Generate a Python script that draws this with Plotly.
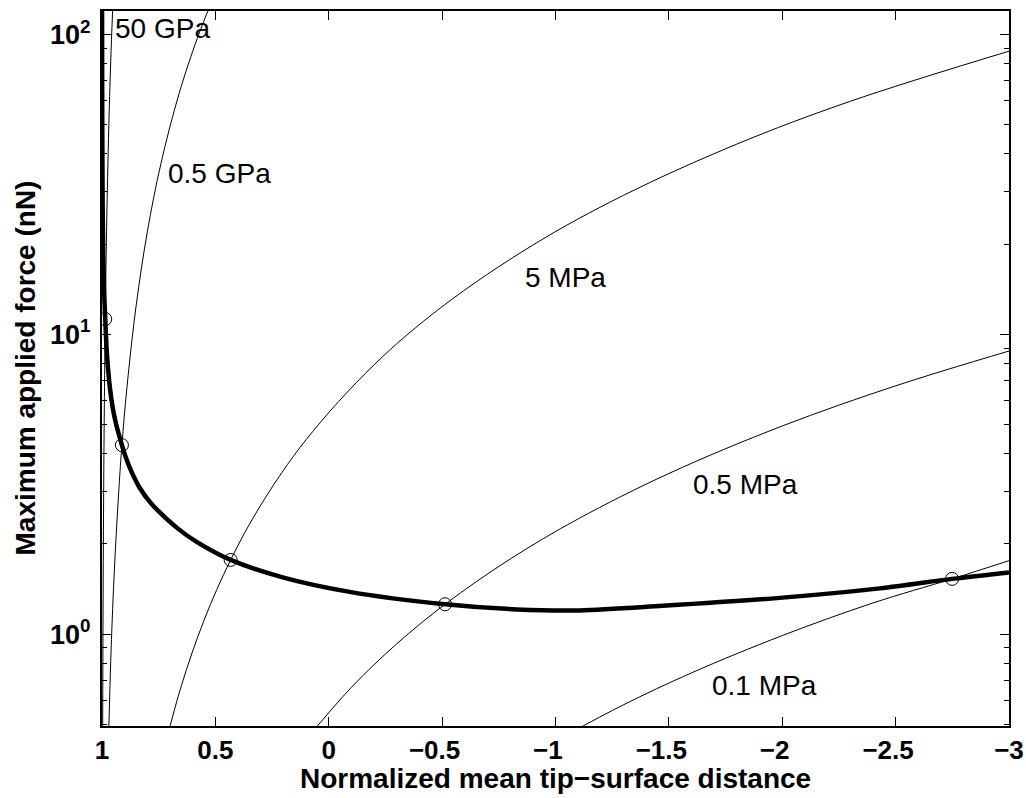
import plotly.graph_objects as go
import math

# ---------------- data ----------------
# Thick curve: maximum applied force (nN) vs normalized mean tip-surface distance
force_x = [0.99978, 0.99912, 0.9978, 0.99515, 0.99074, 0.9857, 0.97971, 0.97309, 0.96427, 0.95324,
           0.94001, 0.9122, 0.8959, 0.87384, 0.83414, 0.78121, 0.66652, 0.58271, 0.4327, 0.20335,
           -0.09219, -0.513, -0.82885, -1.10675, -1.47287, -1.98897, -2.43008, -2.749, -3.0]
force_y = [125.2, 60.4, 32.7, 19.1, 14.05, 11.24, 8.97, 7.63, 6.55, 5.72,
           5.10, 4.27, 3.906, 3.535, 3.078, 2.719, 2.253, 2.031, 1.7685, 1.547,
           1.3836, 1.258, 1.2096, 1.2003, 1.2428, 1.3213, 1.4212, 1.529, 1.607]

# Intersection markers (open circles)
mark_x = [0.9857, 0.9122, 0.4327, -0.513, -2.749]
mark_y = [11.24, 4.27, 1.7685, 1.258, 1.529]

# Constant-pressure contours
p50gpa_x = [0.998, 0.997, 0.995, 0.992, 0.9885, 0.9857, 0.98, 0.97, 0.96, 0.95]
p50gpa_y = [0.2198, 0.4946, 1.374, 3.517, 7.267, 11.24, 21.98, 49.455, 87.92, 137.4]

p05gpa_x = [0.975, 0.96, 0.945, 0.925, 0.9122, 0.89, 0.85, 0.80, 0.74, 0.66, 0.58, 0.52]
p05gpa_y = [0.3434, 0.8792, 1.6622, 3.091, 4.27, 6.649, 12.364, 21.98, 37.146, 63.522, 96.932, 126.6]

p5mpa_x = [0.72, 0.65, 0.55, 0.4327, 0.30, 0.10, -0.20, -0.50, -0.90, -1.30, -1.80, -2.30, -3.0]
p5mpa_y = [0.4308, 0.6731, 1.1127, 1.7685, 2.6926, 4.451, 7.913, 12.364, 19.837, 29.069, 43.081, 59.841, 87.92]

p05mpa_x = [0.10, -0.10, -0.30, -0.513, -0.80, -1.10, -1.50, -2.00, -2.50, -3.0]
p05mpa_y = [0.4451, 0.6649, 0.9287, 1.258, 1.7804, 2.4233, 3.4344, 4.9455, 6.7314, 8.792]

p01mpa_x = [-1.05, -1.30, -1.60, -2.00, -2.40, -2.749, -3.0]
p01mpa_y = [0.4619, 0.5814, 0.7429, 0.9891, 1.2704, 1.529, 1.7584]

contour_labels = ["50 GPa", "0.5 GPa", "5 MPa", "0.5 MPa", "0.1 MPa"]
label_x = [0.953, 0.7164, -0.8566, -1.5995, -1.680]
label_y = [105.0, 34.3, 15.5, 3.146, 0.6726]

x_ticks = [1, 0.5, 0, -0.5, -1, -1.5, -2, -2.5, -3]
x_ticklabels = ["1", "0.5", "0", "\u22120.5", "\u22121", "\u22121.5", "\u22122", "\u22122.5", "\u22123"]
y_ticks = [1, 10, 100]
y_ticktext = ["10<sup>0</sup>", "10<sup>1</sup>", "10<sup>2</sup>"]
y_minor = [0.5, 0.6, 0.7, 0.8, 0.9, 2, 3, 4, 5, 6, 7, 8, 9, 20, 30, 40, 50, 60, 70, 80, 90]

x_title = "Normalized mean tip\u2212surface distance"
y_title = "Maximum applied force (nN)"

# ---------------- figure ----------------
FONT = "Liberation Sans, Arial, Helvetica, sans-serif"
fig = go.Figure()

for cx, cy in [(p50gpa_x, p50gpa_y), (p05gpa_x, p05gpa_y), (p5mpa_x, p5mpa_y),
               (p05mpa_x, p05mpa_y), (p01mpa_x, p01mpa_y)]:
    fig.add_trace(go.Scatter(x=cx, y=cy, mode="lines",
                             line=dict(color="black", width=1, shape="spline", smoothing=1.0),
                             showlegend=False, hoverinfo="skip"))

fig.add_trace(go.Scatter(x=force_x, y=force_y, mode="lines",
                         line=dict(color="black", width=4.5, shape="spline", smoothing=0.9),
                         showlegend=False))
fig.add_trace(go.Scatter(x=mark_x, y=mark_y, mode="markers",
                         marker=dict(symbol="circle-open", size=13, color="black", line=dict(width=1)),
                         showlegend=False))

for t, lx, ly in zip(contour_labels, label_x, label_y):
    fig.add_annotation(x=lx, y=math.log10(ly), xref="x", yref="y", text=t, showarrow=False,
                       xanchor="left", yanchor="middle", font=dict(family=FONT, size=28, color="black"))

# negative labels: digits centred on the tick, minus sign hanging to the left
# (the last label sits at the page edge, so it is left unpadded)
x_ticktext = [t if (not t.startswith("\u2212") or i == len(x_ticklabels) - 1)
              else t + "<span style='color:white'>\u2212</span>"
              for i, t in enumerate(x_ticklabels)]

fig.update_xaxes(range=[1, -3], tickvals=x_ticks, ticktext=x_ticktext, automargin=False,
                 ticklabeloverflow="allow",
                 ticks="inside", ticklen=9, tickwidth=1, tickcolor="black",
                 showline=True, linewidth=2, linecolor="black", mirror="ticks",
                 showgrid=False, zeroline=False,
                 tickfont=dict(family=FONT, size=26, color="black", weight="bold"))
fig.update_yaxes(type="log", range=[math.log10(0.494), math.log10(119.7)], automargin=False,
                 ticklabeloverflow="allow",
                 tickvals=y_ticks, ticktext=y_ticktext, ticklabelstandoff=4,
                 ticks="inside", ticklen=9, tickwidth=1, tickcolor="black",
                 showline=True, linewidth=2, linecolor="black", mirror="ticks",
                 showgrid=False, zeroline=False,
                 minor=dict(tickvals=y_minor, ticks="inside", ticklen=5, tickwidth=1, tickcolor="black", showgrid=False),
                 tickfont=dict(family=FONT, size=27, color="black", weight="bold"))

W, H = 1026, 798
L, R, T, B = 102, 17, 11, 72
PW, PH = W - L - R, H - T - B
fig.add_annotation(x=0.5, y=-(778 - (H - B)) / PH, xref="paper", yref="paper",
                   text=x_title, showarrow=False, xanchor="center", yanchor="middle",
                   font=dict(family=FONT, size=28, color="black", weight="bold"))
fig.add_annotation(x=-(L - 25) / PW, y=0.5, xref="paper", yref="paper",
                   text=y_title, showarrow=False, textangle=-90, xanchor="center", yanchor="middle",
                   font=dict(family=FONT, size=28, color="black", weight="bold"))

fig.update_layout(width=W, height=H, margin=dict(l=L, r=R, t=T, b=B),
                  paper_bgcolor="white", plot_bgcolor="white", showlegend=False)

fig.write_html("out.html")
